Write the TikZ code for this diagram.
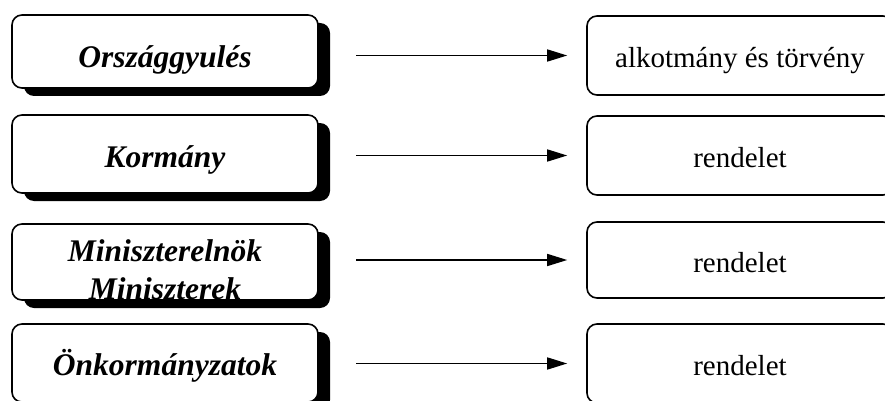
\documentclass[tikz,border=0pt]{standalone}
\usepackage{fontspec}
\setmainfont{Liberation Serif}
\usetikzlibrary{shadows,arrows.meta}
\begin{document}
\begin{tikzpicture}[x=1pt,y=-1pt,
  ltext/.style={font=\fontsize{31.5}{38}\selectfont\bfseries\itshape, align=center, inner sep=0pt},
  lbox/.style 2 args={draw, line width=1.6pt, rounded corners=10pt, fill=white,
    minimum width=306pt, inner sep=0pt,
    drop shadow={shadow xshift=12pt, shadow yshift=-8pt, fill=black, opacity=1},
    path picture={\node[ltext, anchor=base] at ([yshift=#2]path picture bounding box.center) {#1};}},
  rbox/.style={draw, line width=1.6pt, rounded corners=10pt, fill=white,
    minimum width=306pt, inner sep=0pt, text height=24pt, text depth=0pt,
    font=\fontsize{29}{34}\selectfont},
  arr/.style={line width=1.6pt, -{Triangle[length=20pt,width=12pt]}}]
\clip (0,0) rectangle (885,401);
\fill[white] (0,0) rectangle (885,401);
% left boxes
\node[lbox={Országgyulés}{-16.5pt}, minimum height=73pt] (L1) at (165,51.5) {};
\node[lbox={Kormány}{-13pt}, minimum height=78pt] (L2) at (165,154) {};
\node[lbox={Miniszterelnök\\Miniszterek}{-37pt}, minimum height=76pt] (L3) at (165,262) {};
\node[lbox={Önkormányzatok}{-12pt}, minimum height=78pt] (L4) at (165,363) {};
% right boxes
\node[rbox, minimum height=79pt] (R1) at (740,55.5) {alkotmány és törvény};
\node[rbox, minimum height=79pt] (R2) at (740,155.5) {rendelet};
\node[rbox, minimum height=76pt] (R3) at (740,260) {rendelet};
\node[rbox, minimum height=79pt] (R4) at (740,363.5) {rendelet};
% arrows
\draw[arr] ([xshift=-230pt]R1.west) -- ([xshift=-19pt]R1.west);
\draw[arr] ([xshift=-230pt]R2.west) -- ([xshift=-19pt]R2.west);
\draw[arr] ([xshift=-230pt]R3.west) -- ([xshift=-19pt]R3.west);
\draw[arr] ([xshift=-230pt]R4.west) -- ([xshift=-19pt]R4.west);
\end{tikzpicture}
\end{document}
